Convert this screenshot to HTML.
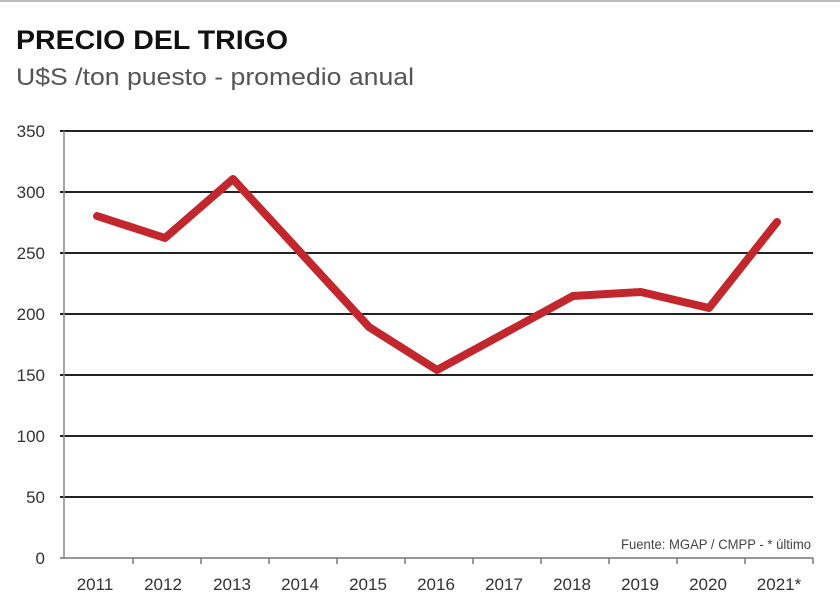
<!DOCTYPE html>
<html><head><meta charset="utf-8"><style>
body{margin:0;background:#fff;}
svg{display:block;font-family:"Liberation Sans",sans-serif;}
</style></head><body>
<svg width="840" height="609" viewBox="0 0 840 609" xmlns="http://www.w3.org/2000/svg">
<rect width="840" height="609" fill="#fff"/>
<line x1="0" y1="1" x2="840" y2="1" stroke="#bbb" stroke-width="2"/>
<text x="16" y="49" font-size="27" font-weight="bold" fill="#111" textLength="272" lengthAdjust="spacingAndGlyphs">PRECIO DEL TRIGO</text>
<text x="16" y="85" font-size="24" fill="#555" textLength="398" lengthAdjust="spacingAndGlyphs">U$S /ton puesto - promedio anual</text>
<g stroke="#222" stroke-width="2">
<line x1="60" y1="131" x2="813" y2="131"/>
<line x1="60" y1="192" x2="813" y2="192"/>
<line x1="60" y1="253" x2="813" y2="253"/>
<line x1="60" y1="314" x2="813" y2="314"/>
<line x1="60" y1="375" x2="813" y2="375"/>
<line x1="60" y1="436" x2="813" y2="436"/>
<line x1="60" y1="497" x2="813" y2="497"/>
</g>
<line x1="64" y1="131" x2="64" y2="558" stroke="#888" stroke-width="1.5"/>
<line x1="60" y1="558" x2="813" y2="558" stroke="#777" stroke-width="1.5"/>
<g stroke="#777" stroke-width="1.5">
<line x1="133" y1="558" x2="133" y2="564"/><line x1="201" y1="558" x2="201" y2="564"/>
<line x1="269" y1="558" x2="269" y2="564"/><line x1="337" y1="558" x2="337" y2="564"/>
<line x1="405" y1="558" x2="405" y2="564"/><line x1="473" y1="558" x2="473" y2="564"/>
<line x1="541" y1="558" x2="541" y2="564"/><line x1="609" y1="558" x2="609" y2="564"/>
<line x1="677" y1="558" x2="677" y2="564"/><line x1="745" y1="558" x2="745" y2="564"/>
<line x1="813" y1="558" x2="813" y2="564"/>
</g>
<g font-size="17" fill="#333" text-anchor="end">
<text x="45" y="137">350</text><text x="45" y="198">300</text><text x="45" y="259">250</text>
<text x="45" y="320">200</text><text x="45" y="381">150</text><text x="45" y="442">100</text>
<text x="45" y="503">50</text><text x="45" y="564">0</text>
</g>
<g font-size="17" fill="#333" text-anchor="middle">
<text x="95" y="590">2011</text><text x="163" y="590">2012</text><text x="232" y="590">2013</text>
<text x="300" y="590">2014</text><text x="368" y="590">2015</text><text x="436" y="590">2016</text>
<text x="504" y="590">2017</text><text x="572" y="590">2018</text><text x="640" y="590">2019</text>
<text x="708" y="590">2020</text><text x="779" y="590">2021*</text>
</g>
<text x="811" y="549" font-size="14" fill="#444" text-anchor="end" textLength="190" lengthAdjust="spacingAndGlyphs">Fuente: MGAP / CMPP - * último</text>
<polyline fill="none" stroke="#c1272d" stroke-width="8" stroke-linejoin="round" stroke-linecap="round"
points="97,216 165,238 233,179 301,253 369,327 437,370 505,333 573,296 641,292 709,308 777,222"/>
</svg>
</body></html>
